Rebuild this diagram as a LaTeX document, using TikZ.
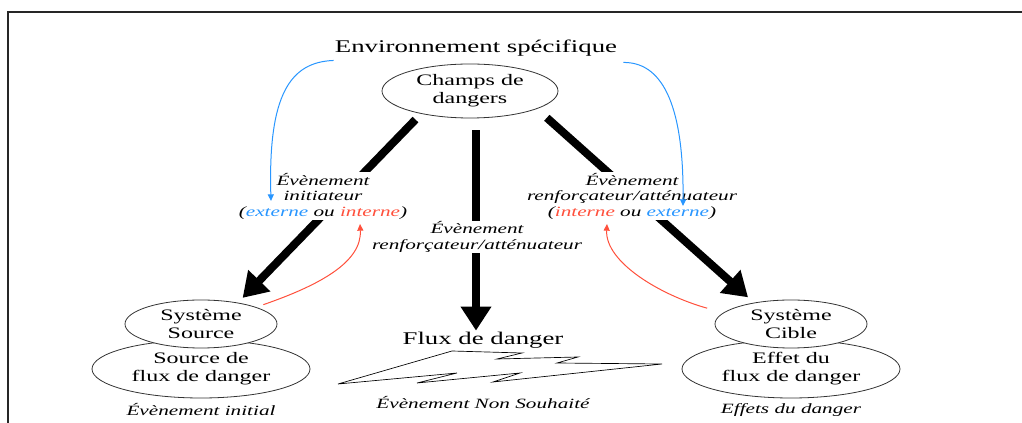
\documentclass[tikz,border=0pt]{standalone}
\usepackage{fontspec}
\setmainfont{Liberation Serif}[FakeStretch=1.5]
\usetikzlibrary{arrows.meta}
\usetikzlibrary{shapes.geometric}
\usetikzlibrary{calc}
\definecolor{extblue}{RGB}{40,150,255}
\definecolor{intred}{RGB}{255,80,60}

\begin{document}
\begin{tikzpicture}[x=0.75pt,y=0.75pt,yscale=-1,xscale=1,
  ell/.style={draw=black!80,line width=0.6pt,ellipse,inner sep=0pt,align=center,font=\fontsize{12}{13.5}\selectfont},
  lab/.style={align=center,inner sep=0.75pt,font=\fontsize{10.6}{11.6}\selectfont\itshape},
  bigtext/.style={inner sep=0.75pt,font=\fontsize{13.4}{15}\selectfont},
  bigarrow/.style={line width=6pt,-{Triangle[length=18pt,width=22pt]}},
  feedarrow/.style={line width=0.75pt,-{Triangle[length=5pt,width=4.5pt]}}]
\useasboundingbox (0,0) rectangle (1022,423);

%Frame
\draw [line width=1.2pt, black!85] (8,423) -- (8,12) -- (1022,12) ;

% Text Node
\node [bigtext] (env) at (476,48) {Environnement spécifique};
%Shape: Ellipse
\node [ell, minimum width=132pt, minimum height=40.5pt] (champs) at (470,91) {Champs de\\dangers};
%Shape: Ellipse
\node [ell, minimum width=163.5pt, minimum height=43.5pt] (srcflux) at (201,369) {Source de\\flux de danger};
\node [ell, fill=white, minimum width=114pt, minimum height=36pt] (srcsys) at (201,324) {Système\\Source};
%Shape: Ellipse
\node [ell, minimum width=163.5pt, minimum height=43.5pt] (cibflux) at (791,369) {Effet du\\flux de danger};
\node [ell, fill=white, minimum width=114pt, minimum height=36pt] (cibsys) at (791,324) {Système\\Cible};
% Text Node
\node [bigtext] (flux) at (483,340) {Flux de danger};

%Thick arrows
\draw [bigarrow, shorten <=6pt, shorten >=5pt] (champs.205) -- (srcsys.30) ;
\draw [bigarrow] ($(champs.south)+(6,12)$) -- ($(flux.north)+(-7,0)$) ;
\draw [bigarrow, shorten <=10pt, shorten >=6pt] (champs.345) -- (cibsys.150) ;

% Text Node
\node [lab, fill=white] (initlab) at (323,196) {Évènement\\initiateur\\(\textcolor{extblue}{externe} ou \textcolor{intred}{interne})};
\node [lab, fill=white] (renflab) at (632,196) {Évènement\\renforçateur/atténuateur\\(\textcolor{intred}{interne} ou \textcolor{extblue}{externe})};
\node [lab, fill=white] (midlab) at (477,237) {Évènement\\renforçateur/atténuateur};

%Shape: Lightning
\draw [line width=0.5pt] (338,384) -- (452,351) -- (522,353) -- (497,359) -- (578,357) -- (557,363) -- (662,364) -- (493,382) -- (520,373) -- (417,383) -- (457,373) -- cycle ;

% Text Node
\node [lab] (initev) at (201,410) {Évènement initial};
\node [lab] (nsev) at (483,403) {Évènement Non Souhaité};
\node [lab] (effev) at (791,410) {Effets du danger};

%Curve Lines
\coordinate (tipext) at (271,201);
\coordinate (tipextr) at (683,206);
\coordinate (tipint) at (360,224);
\coordinate (tipintr) at (607,224);
\draw [feedarrow, extblue] ($(env.south west)+(0,3)$) .. controls (290,62) and (268,95) .. (tipext) ;
\draw [feedarrow, extblue] ($(env.south east)+(5,5)$) .. controls (660,62) and (684,100) .. (tipextr) ;
\draw [feedarrow, intred] ($(srcsys.20)+(12,-1)$) .. controls (320,285) and (362,262) .. (tipint) ;
\draw [feedarrow, intred] ($(cibsys.170)+(-17,-4)$) .. controls (660,295) and (605,262) .. (tipintr) ;

\end{tikzpicture}
\end{document}
